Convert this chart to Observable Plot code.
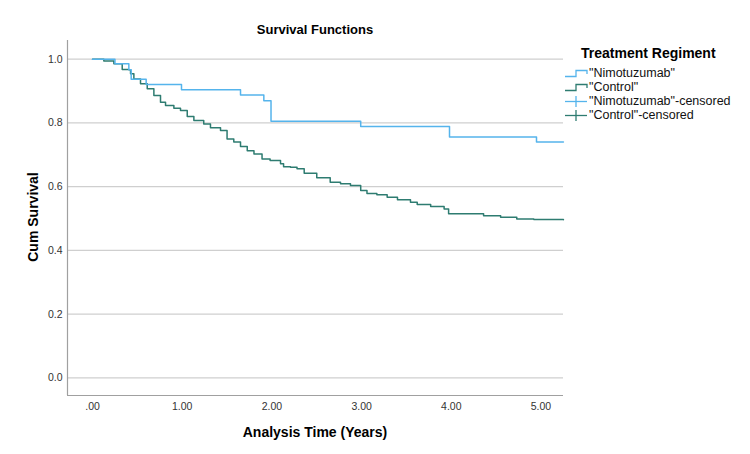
<!DOCTYPE html>
<html>
<head>
<meta charset="utf-8">
<script src="https://cdn.jsdelivr.net/npm/d3@7"></script>
<script src="https://cdn.jsdelivr.net/npm/@observablehq/plot@0.6"></script>
<style>
  body { margin: 0; background: #fff; font-family: "Liberation Sans", Arial, sans-serif; }
  #wrap { position: relative; width: 750px; height: 454px; overflow: hidden; }
  .abs { position: absolute; white-space: nowrap; color: #000; }
  #title { left: 67px; width: 496px; top: 22px; text-align: center; font-weight: bold; font-size: 13px; }
  #xlabel { left: 67px; width: 496px; top: 424px; text-align: center; font-weight: bold; font-size: 14px; }
  #ylabel { left: 33px; top: 217px; transform: translate(-50%, -50%) rotate(-90deg); font-weight: bold; font-size: 14px; }
  #legtitle { left: 581px; top: 45px; font-weight: bold; font-size: 14px; }
  .leg { left: 565px; font-size: 12.5px; display: flex; align-items: center; color: #111; }
  .leg svg { margin-right: 1px; }
</style>
</head>
<body>
<div id="wrap">
  <div id="plot"></div>
  <div id="title" class="abs">Survival Functions</div>
  <div id="xlabel" class="abs">Analysis Time (Years)</div>
  <div id="ylabel" class="abs">Cum Survival</div>
  <div id="legtitle" class="abs">Treatment Regiment</div>
  <div id="legend"></div>
</div>
<script>
// Data
const nimoTime = [0, 0.25, 0.405, 0.431, 0.598, 0.992, 1.65, 1.91, 1.99, 2.99, 3.98, 4.95, 5.25];
const nimoSurv = [1.0, 0.986, 0.967, 0.937, 0.921, 0.904, 0.888, 0.870, 0.805, 0.789, 0.756, 0.740, 0.740];

const ctrlTime = [0, 0.126, 0.238, 0.331, 0.405, 0.424, 0.461, 0.535, 0.61, 0.684, 0.758, 0.814, 0.907, 0.981,
  1.056, 1.13, 1.24, 1.315, 1.427, 1.50, 1.575, 1.65, 1.725, 1.80, 1.89, 1.98, 2.096, 2.13, 2.207, 2.28, 2.36,
  2.50, 2.65, 2.765, 2.876, 2.99, 3.06, 3.17, 3.285, 3.40, 3.545, 3.62, 3.77, 3.92, 3.97, 4.18, 4.36, 4.55,
  4.73, 4.92, 5.25];
const ctrlSurv = [1.0, 0.994, 0.986, 0.968, 0.967, 0.954, 0.938, 0.923, 0.907, 0.886, 0.865, 0.855, 0.846, 0.839,
  0.820, 0.808, 0.797, 0.785, 0.776, 0.750, 0.740, 0.726, 0.713, 0.703, 0.687, 0.682, 0.672, 0.663, 0.661, 0.656,
  0.642, 0.628, 0.614, 0.609, 0.604, 0.588, 0.579, 0.575, 0.567, 0.559, 0.551, 0.544, 0.538, 0.530, 0.515, 0.515,
  0.509, 0.504, 0.499, 0.497, 0.496];

const groups = ['"Nimotuzumab"', '"Control"'];
const legendLabels = ['"Nimotuzumab"', '"Control"', '"Nimotuzumab"-censored', '"Control"-censored'];
const colors = ["#55b4ec", "#2e7c71"];
const xTicks = [0, 1, 2, 3, 4, 5];
const yTicks = [0, 0.2, 0.4, 0.6, 0.8, 1.0];
const xDomain = [-0.279, 5.251];
const yDomain = [-0.055, 1.0587];

const nimo = nimoTime.map((t, i) => ({t, s: nimoSurv[i], g: groups[0]}));
const ctrl = ctrlTime.map((t, i) => ({t, s: ctrlSurv[i], g: groups[1]}));

const fmtX = d => d3.format(".2f")(d).replace(/^0\./, ".");

const chart = Plot.plot({
  width: 750,
  height: 454,
  marginLeft: 67,
  marginRight: 187,
  marginTop: 40,
  marginBottom: 59,
  style: {fontFamily: "Liberation Sans, Arial, sans-serif", fontSize: "10.5px", color: "#333", background: "#fff"},
  x: {domain: xDomain, ticks: xTicks, tickFormat: fmtX, tickSize: 0, tickPadding: 7, label: null},
  y: {domain: yDomain, ticks: yTicks, tickFormat: d3.format(".1f"), tickSize: 0, tickPadding: 5, label: null},
  color: {domain: groups, range: colors},
  marks: [
    Plot.ruleY(yTicks, {stroke: "#cfcfcf", strokeWidth: 1.2}),
    Plot.ruleX([xDomain[0]], {stroke: "#a0a0a0", strokeWidth: 1.2}),
    Plot.ruleY([yDomain[0]], {stroke: "#a0a0a0", strokeWidth: 1.2}),
    Plot.line(ctrl, {x: "t", y: "s", stroke: "g", curve: "step-after", strokeWidth: 1.5}),
    Plot.line(nimo, {x: "t", y: "s", stroke: "g", curve: "step-after", strokeWidth: 1.5})
  ]
});
document.getElementById("plot").appendChild(chart);

// Legend
const legend = document.getElementById("legend");
const legTops = [66, 80, 94, 108];
legendLabels.forEach((lab, i) => {
  const c = colors[i % 2];
  const censored = i >= 2;
  const div = document.createElement("div");
  div.className = "abs leg";
  div.style.top = legTops[i] + "px";
  const sym = censored
    ? `<svg width="23" height="14"><line x1="0" y1="7.5" x2="22" y2="7.5" stroke="${c}" stroke-width="1.3"/><line x1="11" y1="2" x2="11" y2="13" stroke="${c}" stroke-width="1.3"/></svg>`
    : `<svg width="23" height="14"><polyline points="0,10.5 11,10.5 11,4.5 22,4.5 22,8" fill="none" stroke="${c}" stroke-width="1.3"/></svg>`;
  div.innerHTML = sym + `<span>${lab}</span>`;
  legend.appendChild(div);
});
</script>
</body>
</html>
